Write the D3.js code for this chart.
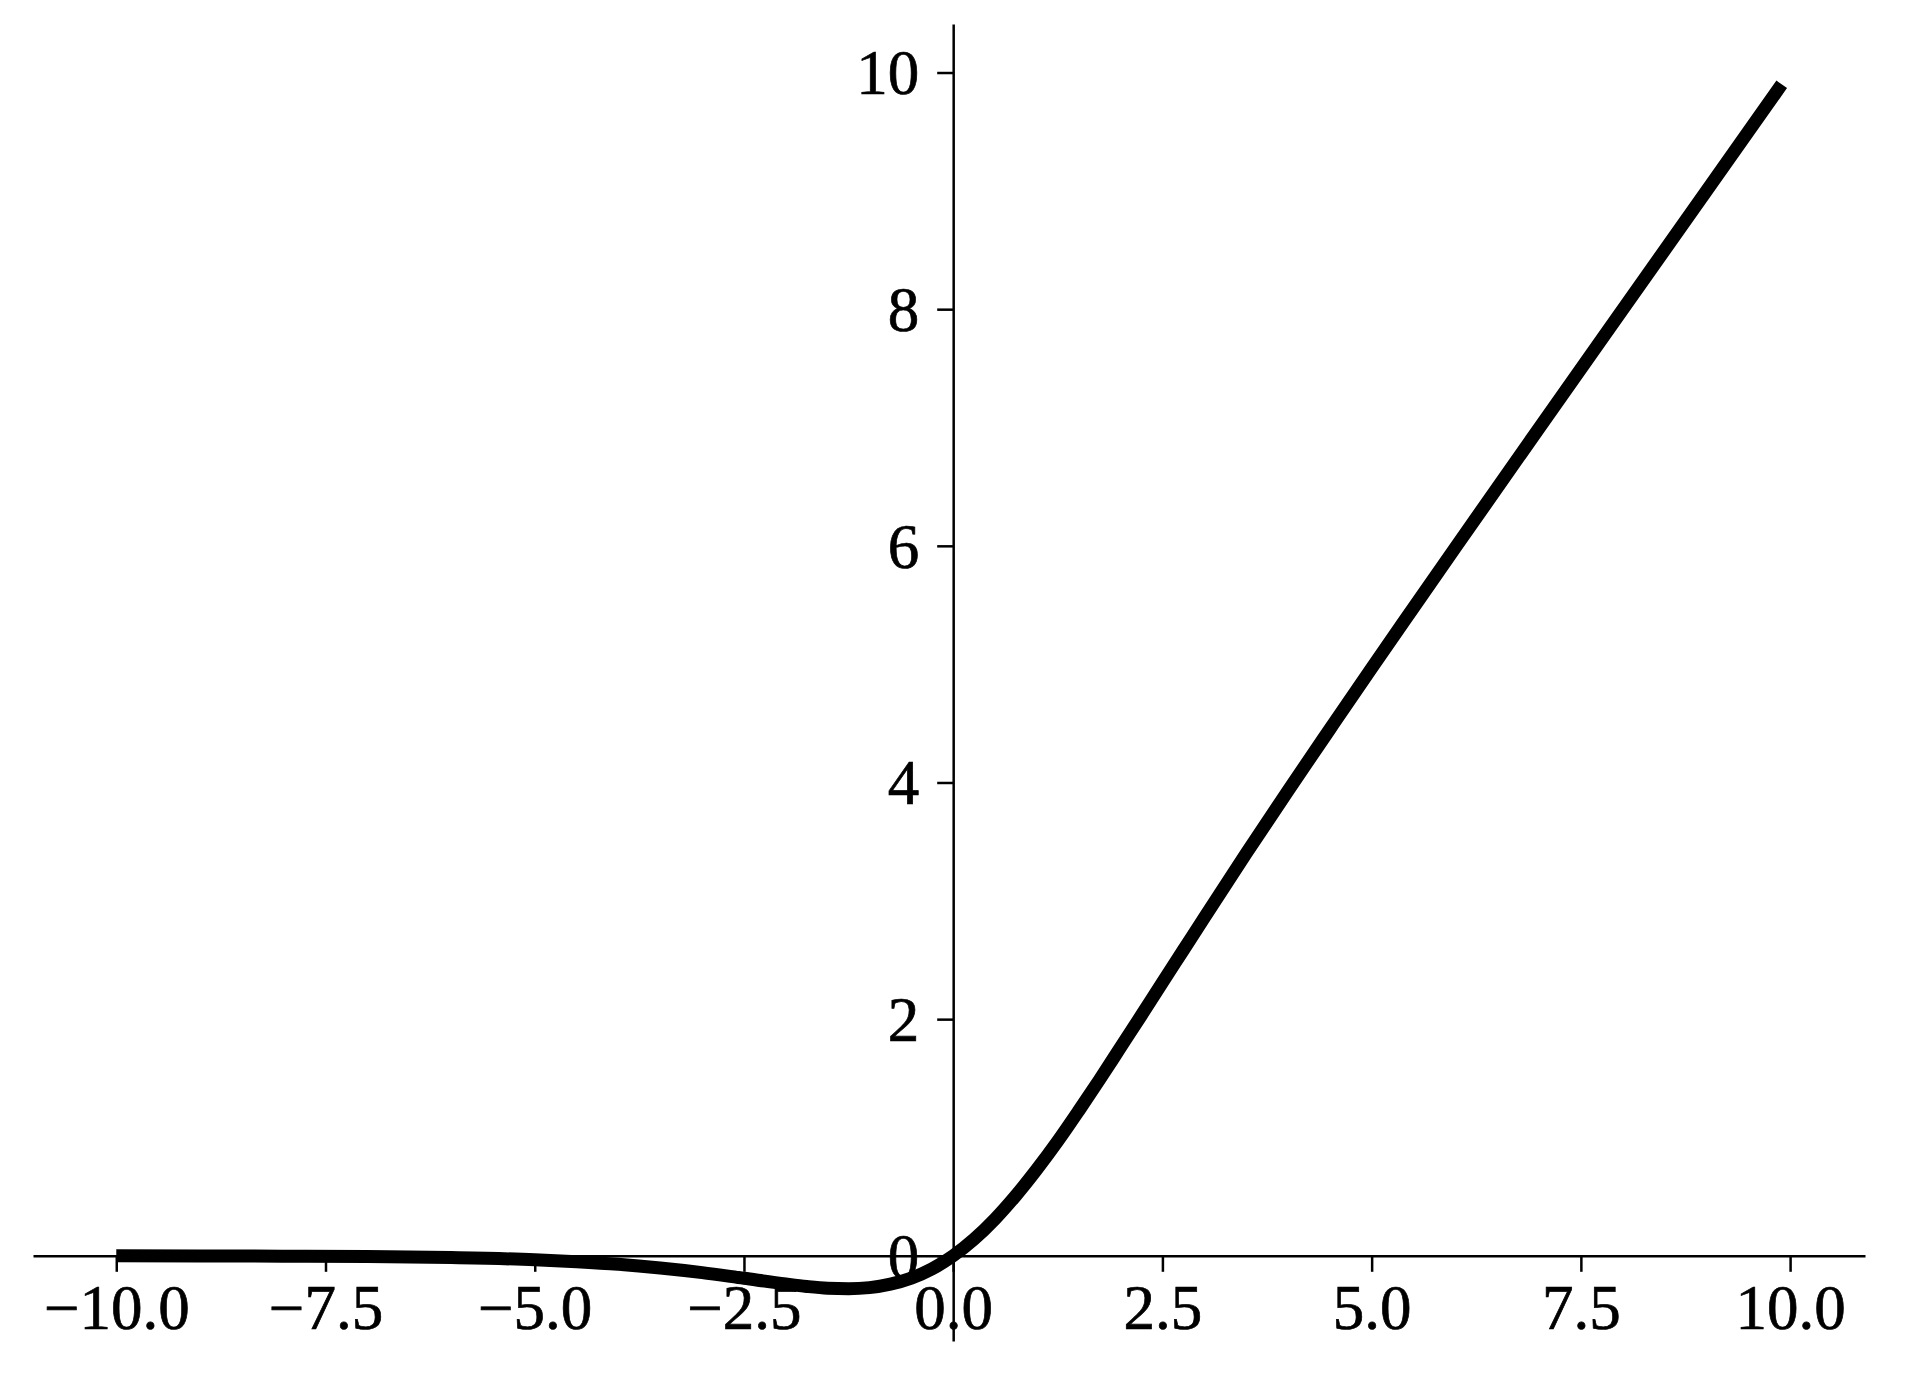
<!DOCTYPE html>
<html lang="en">
<head>
    <meta charset="UTF-8">
    <title>Activation curve</title>
    <script src="https://d3js.org/d3.v7.min.js"></script>
    <style>
        body {
            margin: 0;
            background-color: #fff;
        }

        .tick text {
            font-family: "Liberation Serif", "Times New Roman", serif;
            font-size: 63px;
            fill: #000;
            stroke: #000;
            stroke-width: 0.7px;
        }

        .domain, .tick line {
            stroke: #000;
        }
    </style>
</head>
<body>
    <svg id="chart" width="1910" height="1380"></svg>
    <script>
        // Points
        const xValues = [-10, -9, -8, -7, -6, -5, -4.5, -4, -3.5, -3, -2.5, -2, -1.75, -1.5, -1.25, -1,
                         -0.75, -0.5, -0.25, 0, 0.25, 0.5, 0.75, 1, 1.25, 1.5, 1.75, 2, 2.25, 2.5, 2.75,
                         3, 3.5, 4, 4.5, 5, 5.5, 6, 7, 8, 9, 9.9];
        const yValues = [-0.0005, -0.001, -0.003, -0.006, -0.015, -0.033, -0.05, -0.072, -0.103, -0.142, -0.19,
                         -0.238, -0.259, -0.274, -0.278, -0.269, -0.24, -0.189, -0.11, 0, 0.14, 0.311, 0.51,
                         0.731, 0.97, 1.226, 1.49, 1.762, 2.034, 2.31, 2.583, 2.857, 3.4, 3.93, 4.45, 4.967,
                         5.477, 5.985, 6.994, 7.997, 8.999, 9.9];

        // Tick labels
        const xTicks = [-10, -7.5, -5, -2.5, 0, 2.5, 5, 7.5, 10];
        const yTicks = [0, 2, 4, 6, 8, 10];

        const points = xValues.map((x, i) => ({ x: x, y: yValues[i] }));

        const svg = d3.select("#chart");

        // Scales (axes cross at zero)
        const x = d3.scaleLinear()
                    .domain([-10.995, 10.895])
                    .range([33, 1865]);

        const y = d3.scaleLinear()
                    .domain([-0.72, 10.41])
                    .range([1341, 24]);

        // X axis along y = 0
        const xAxis = svg.append("g")
            .attr("transform", `translate(0,${y(0)})`)
            .call(d3.axisBottom(x)
                .tickValues(xTicks)
                .tickFormat(d3.format(".1f"))
                .tickSize(16)
                .tickPadding(12)
                .tickSizeOuter(0));

        // Y axis along x = 0
        const yAxis = svg.append("g")
            .attr("transform", `translate(${x(0)},0)`)
            .call(d3.axisLeft(y)
                .tickValues(yTicks)
                .tickFormat(d3.format("d"))
                .tickSize(16)
                .tickPadding(18)
                .tickSizeOuter(0));

        svg.selectAll(".domain").attr("stroke-width", 2.5);
        svg.selectAll(".tick line").attr("stroke-width", 2.5);
        yAxis.selectAll(".tick text").attr("dy", "0.34em");

        // Curve
        const line = d3.line()
            .x(d => x(d.x))
            .y(d => y(d.y))
            .curve(d3.curveMonotoneX);

        svg.append("path")
            .datum(points)
            .attr("fill", "none")
            .attr("stroke", "#000")
            .attr("stroke-width", 13)
            .attr("d", line);
    </script>
</body>
</html>
